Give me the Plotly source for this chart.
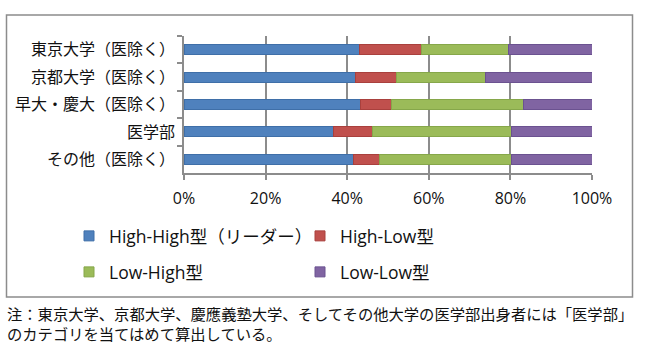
import plotly.graph_objects as go

categories = ["東京大学（医除く）", "京都大学（医除く）", "早大・慶大（医除く）", "医学部", "その他（医除く）"]
series_names = ["High-High型（リーダー）", "High-Low型", "Low-High型", "Low-Low型"]
high_high = [43.0, 42.0, 43.3, 36.6, 41.6]
high_low = [15.1, 10.0, 7.6, 9.7, 6.2]
low_high = [21.5, 22.0, 32.3, 34.0, 32.5]
low_low = [20.4, 26.0, 16.8, 19.7, 19.7]
tick_vals = [0, 20, 40, 60, 80, 100]
tick_text = ["0%", "20%", "40%", "60%", "80%", "100%"]
note = "注：東京大学、京都大学、慶應義塾大学、そしてその他大学の医学部出身者には「医学部」<br>のカテゴリを当てはめて算出している。"

colors = ["#4F81BD", "#C0504D", "#9BBB59", "#8064A2"]
borders = ["#3f6fa8", "#a9403d", "#86a74a", "#6b5290"]
legends = ["legend", "legend", "legend2", "legend2"]

FONT = "Open Sans, Noto Sans CJK JP, sans-serif"

fig = go.Figure()
for name, vals, c, bc, lg in zip(series_names, [high_high, high_low, low_high, low_low], colors, borders, legends):
    fig.add_trace(go.Bar(
        y=categories, x=vals, name=name, orientation="h",
        marker=dict(color=c, line=dict(color=bc, width=1)),
        legendgroup=name, showlegend=False,
    ))
# legend entries (square swatches, as in the original)
for name, c, bc, lg in zip(series_names, colors, borders, legends):
    fig.add_trace(go.Scatter(
        x=[None], y=[None], mode="markers", name=name,
        marker=dict(symbol="square", size=10, color=c, line=dict(color=bc, width=1)),
        legendgroup=name, legend=lg, showlegend=True, hoverinfo="skip",
    ))

W, H = 646, 352
L, R, T, B = 184, 54, 36, 179
pw = W - L - R
ph = H - T - B

def px2x(px):
    return (px - L) / pw

def py2y(py):
    return (H - B - py) / ph

fig.update_layout(
    width=W, height=H,
    margin=dict(l=L, r=R, t=T, b=B, pad=0, autoexpand=False),
    paper_bgcolor="white", plot_bgcolor="white",
    barmode="stack", bargap=0.63,
    font=dict(family=FONT, size=15, color="#111111"),
    xaxis=dict(
        range=[0, 100], tickvals=tick_vals, ticktext=tick_text,
        showgrid=True, gridcolor="#8c8c8c", gridwidth=1.5,
        showline=True, linecolor="#8c8c8c", linewidth=1.5,
        ticks="outside", ticklen=5, tickcolor="#8c8c8c", tickwidth=1.5,
        tickfont=dict(size=16), ticklabelstandoff=5,
        zeroline=False, fixedrange=True, automargin=False,
    ),
    yaxis=dict(
        categoryorder="array", categoryarray=categories, autorange="reversed",
        showline=True, linecolor="#8c8c8c", linewidth=1.5,
        ticks="outside", ticklen=5, tickcolor="#8c8c8c", tickwidth=1.5,
        tickson="boundaries", tickfont=dict(size=16), ticklabelstandoff=4,
        showgrid=False, fixedrange=True, automargin=False,
    ),
    legend=dict(
        orientation="h", x=px2x(69), xanchor="left", y=py2y(236), yanchor="middle",
        entrywidthmode="pixels", entrywidth=186, font=dict(size=17.5),
        bgcolor="rgba(0,0,0,0)", traceorder="normal",
    ),
    legend2=dict(
        orientation="h", x=px2x(69), xanchor="left", y=py2y(272), yanchor="middle",
        entrywidthmode="pixels", entrywidth=186, font=dict(size=17.5),
        bgcolor="rgba(0,0,0,0)", traceorder="normal",
    ),
    shapes=[dict(
        type="rect", xref="paper", yref="paper",
        x0=px2x(6.5), x1=px2x(632.5), y0=py2y(297), y1=py2y(15),
        line=dict(color="#8c8c8c", width=1.5), fillcolor="rgba(0,0,0,0)", layer="below",
    )],
    annotations=[dict(
        text=note, xref="paper", yref="paper", x=px2x(5), y=py2y(302),
        xanchor="left", yanchor="top", align="left", showarrow=False,
        font=dict(size=15.3, color="#111111"),
    )],
)

fig.write_html("out.html")
